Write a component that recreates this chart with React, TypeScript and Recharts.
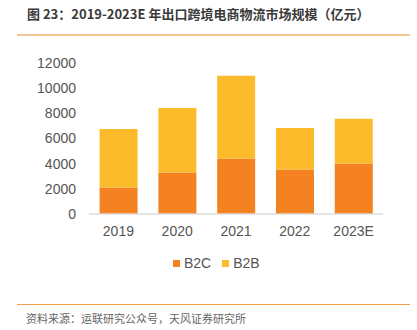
import { BarChart, Bar, XAxis, YAxis } from "recharts";

const years = ["2019", "2020", "2021", "2022", "2023E"];
const b2c = [2115, 3305, 4420, 3545, 4020];
const b2b = [4640, 5120, 6570, 3290, 3555];
const yTicks = [0, 2000, 4000, 6000, 8000, 10000, 12000];

const B2C_COLOR = "#f58220";
const B2B_COLOR = "#fbbb2b";
const FONT = "'Liberation Sans', Arial, sans-serif";
const CJK = "'Noto Sans CJK SC', sans-serif";

const data = years.map((year, i) => ({ year, b2c: b2c[i], b2b: b2b[i] }));

const App = () => {
  return (
    <div
      style={{
        position: "absolute",
        top: 0,
        left: 0,
        width: 417,
        height: 330,
        background: "#fff",
        overflow: "hidden",
      }}
    >
      <div
        style={{
          position: "absolute",
          left: 27,
          top: 5,
          fontFamily: CJK,
          fontSize: 13,
          fontWeight: 700,
          color: "#3a3a3a",
          whiteSpace: "nowrap",
          lineHeight: "18px",
        }}
      >
        图 23：2019-2023E 年出口跨境电商物流市场规模（亿元）
      </div>
      <div
        style={{
          position: "absolute",
          left: 17,
          top: 34,
          width: 393,
          height: 2,
          background: "#f8c797",
        }}
      />
      <div style={{ position: "absolute", left: 0, top: 0 }}>
        <BarChart
          width={417}
          height={250}
          data={data}
          margin={{ top: 63, right: 34, left: 0, bottom: 6 }}
          barCategoryGap="18%"
        >
          <XAxis
            dataKey="year"
            height={30}
            tickLine={false}
            tickMargin={6}
            axisLine={{ stroke: "#dcdcdc", strokeWidth: 1.5 }}
            tick={{ fill: "#555", fontSize: 14, fontFamily: FONT }}
          />
          <YAxis
            width={89}
            domain={[0, 12000]}
            ticks={yTicks}
            interval={0}
            tickLine={false}
            axisLine={false}
            tickMargin={7}
            tick={{ fill: "#555", fontSize: 14, fontFamily: FONT }}
          />
          <Bar
            dataKey="b2c"
            stackId="a"
            fill={B2C_COLOR}
            isAnimationActive={false}
          />
          <Bar
            dataKey="b2b"
            stackId="a"
            fill={B2B_COLOR}
            isAnimationActive={false}
          />
        </BarChart>
      </div>
      <div
        style={{
          position: "absolute",
          top: 254,
          left: 173,
          display: "flex",
          alignItems: "center",
          fontFamily: FONT,
          fontSize: 14,
          color: "#555",
          lineHeight: "18px",
        }}
      >
        <span style={{ width: 7, height: 7, background: B2C_COLOR, marginRight: 4 }} />
        <span style={{ marginRight: 11 }}>B2C</span>
        <span style={{ width: 7, height: 7, background: B2B_COLOR, marginRight: 4 }} />
        <span>B2B</span>
      </div>
      <div
        style={{
          position: "absolute",
          left: 17,
          top: 304,
          width: 393,
          height: 1,
          background: "#f5a04a",
        }}
      />
      <div
        style={{
          position: "absolute",
          left: 26,
          top: 310,
          fontFamily: CJK,
          fontSize: 11,
          color: "#666",
          whiteSpace: "nowrap",
          lineHeight: "16px",
        }}
      >
        资料来源：运联研究公众号，天风证券研究所
      </div>
    </div>
  );
};

export default App;
